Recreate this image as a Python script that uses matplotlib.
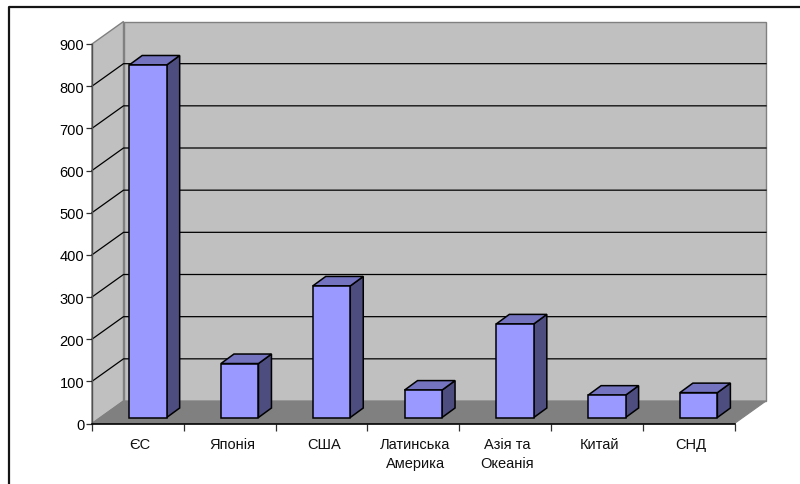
import matplotlib
matplotlib.use("Agg")
import matplotlib.pyplot as plt
from matplotlib.patches import Polygon
from matplotlib.lines import Line2D

categories = ["ЄС", "Японія", "США", "Латинська\nАмерика", "Азія та\nОкеанія", "Китай", "СНД"]
values = [836, 128, 312, 65, 222, 53, 59]
y_ticks = [0, 100, 200, 300, 400, 500, 600, 700, 800, 900]

W, H = 800, 485
L, R, T, B = 92.0, 734.5, 45.0, 424.5
plt.rcParams['font.family'] = ['Liberation Sans', 'DejaVu Sans']

fig = plt.figure(figsize=(W / 100, H / 100), dpi=100, facecolor='white')
ax = fig.add_axes([L / W, 1 - B / H, (R - L) / W, (B - T) / H])
n = len(categories)
ax.set_xlim(0, n)
ax.set_ylim(0, y_ticks[-1])
ax.patch.set_visible(False)

ux = (R - L) / n          # pixels per category
uy = (B - T) / y_ticks[-1]  # pixels per value unit
DX, DY = 31.5 / ux, 22.5 / uy      # depth of the box
BDX, BDY = 8.2 / ux, 6.0 / uy      # bar front plane
SDX, SDY = 13.0 / ux, 9.5 / uy     # bar depth
BW = 37.5 / ux
ymax = y_ticks[-1]


def poly(pts, fc, ec, lw, z):
    ax.add_patch(Polygon(pts, closed=True, facecolor=fc, edgecolor=ec, linewidth=lw,
                         zorder=z, clip_on=False, joinstyle='miter'))


# walls and floor
poly([(0, 0), (DX, DY), (DX, ymax + DY), (0, ymax)], '#C0C0C0', '#808080', 1.0, 1)
poly([(DX, DY), (n + DX, DY), (n + DX, ymax + DY), (DX, ymax + DY)], '#C0C0C0', '#808080', 1.0, 1)
poly([(0, 0), (DX, DY), (n + DX, DY), (n, 0)], '#808080', '#808080', 0.8, 2)

# gridlines
for v in y_ticks[1:-1]:
    ax.add_line(Line2D([0, DX, n + DX], [v, v + DY, v + DY], color='black', lw=0.9,
                       zorder=3, clip_on=False))

# bars
for i, v in enumerate(values):
    x0 = i + 0.5 - BW / 2 + BDX + 0.02
    x1 = x0 + BW
    y0 = BDY
    y1 = BDY + v
    poly([(x1, y0), (x1 + SDX, y0 + SDY), (x1 + SDX, y1 + SDY), (x1, y1)], '#4D4D80', 'black', 1.1, 4)
    poly([(x0, y1), (x1, y1), (x1 + SDX, y1 + SDY), (x0 + SDX, y1 + SDY)], '#7373BF', 'black', 1.1, 4)
    poly([(x0, y0), (x1, y0), (x1, y1), (x0, y1)], '#9999FF', 'black', 1.1, 5)

# axes
for s in ('top', 'right'):
    ax.spines[s].set_visible(False)
ax.spines['left'].set_color('#505050')
ax.spines['left'].set_linewidth(1.0)
ax.spines['bottom'].set_color('black')
ax.spines['bottom'].set_linewidth(1.2)
ax.spines['left'].set_zorder(6)
ax.spines['bottom'].set_zorder(6)

ax.set_yticks(y_ticks)
ax.set_yticklabels([str(v) for v in y_ticks], fontsize=10.5, color='black')
ax.tick_params(axis='y', length=4, width=0.9, color='#303030', pad=1.5)

ax.set_xticks(range(n + 1))
ax.set_xticklabels([])
ax.tick_params(axis='x', which='major', length=5, width=0.9, color='#303030')
ax.set_xticks([i + 0.5 + 2.2 / ux for i in range(n)], minor=True)
ax.set_xticklabels(categories, minor=True, fontsize=10.5, color='#101010', linespacing=1.4)
ax.tick_params(axis='x', which='minor', length=0, pad=10)

# chart-area border: only the top and left edges are inside the picture
fig.add_artist(Line2D([8.5 / W, 8.5 / W, 1], [0, 1 - 8 / H, 1 - 8 / H], color='#151515', lw=1.6,
                      transform=fig.transFigure))

fig.savefig('out.png', dpi=100, facecolor='white')
